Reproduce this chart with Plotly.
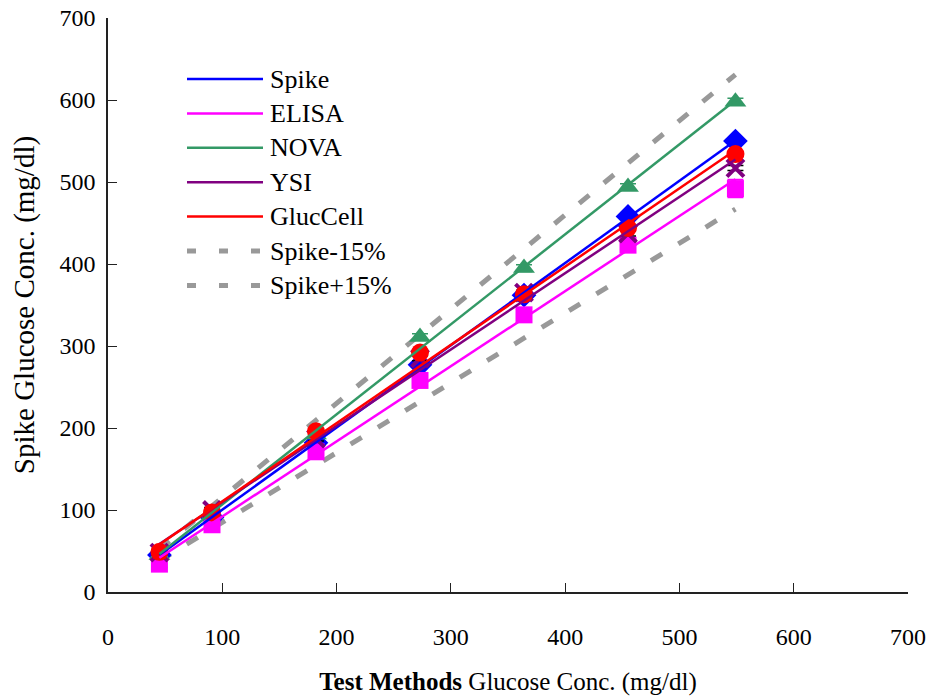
import numpy as np
import plotly.graph_objects as go

# ---- data ----
test_x = [45, 91, 182, 273, 364, 455, 549]
spike = [45, 91, 182, 277, 362, 458, 550]
elisa = [34, 82, 171, 258, 338, 423, 492]
nova = [45, 95, 192, 311, 395, 494, 598]
ysi = [48, 100, 187, 285, 365, 437, 517]
gluccell = [49, 97, 196, 292, 363, 444, 534]
spike_minus15 = [38, 77, 155, 232, 309, 387, 467]
spike_plus15 = [52, 105, 209, 314, 419, 523, 631]

elisa_err = [4, 4, 4, 5, 6, 8, 11]
nova_err = [3, 3, 3, 4, 4, 4, 4]
ysi_err = [3, 3, 3, 3, 3, 3, 3]
gluc_err = [3, 3, 3, 3, 3, 3, 3]

tick_vals = [0, 100, 200, 300, 400, 500, 600, 700]

FONT = "Liberation Serif, Times New Roman, serif"

series = [
    ("Spike", spike, "#0000FF", "diamond", None, None, 19),
    ("ELISA", elisa, "#FF00FF", "square", elisa_err, "#FF00FF", 17),
    ("NOVA", nova, "#339966", "triangle-up", nova_err, "#339966", 19),
    ("YSI", ysi, "#800080", "x-thin", ysi_err, "#000000", 17),
    ("GlucCell", gluccell, "#FF0000", "circle", gluc_err, "#FF0000", 18),
]

fig = go.Figure()

# dashed +/-15% limits
for yv in (spike_minus15, spike_plus15):
    fig.add_trace(go.Scatter(
        x=test_x, y=yv, mode="lines",
        line=dict(color="#999999", width=5, dash="13px,19px"),
        showlegend=False, hoverinfo="skip"))

# markers (data points) with error bars
for name, yv, col, sym, err, ecol, size in series:
    mk = dict(symbol=sym, size=size, color=col)
    if sym == "x-thin":
        mk = dict(symbol=sym, size=size, color=col, line=dict(color=col, width=4))
    tr = dict(x=test_x, y=yv, mode="markers", marker=mk, showlegend=False, name=name)
    if err is not None:
        tr["error_y"] = dict(type="data", array=err, visible=True,
                             color=ecol, thickness=1.5, width=8)
    fig.add_trace(go.Scatter(**tr))

# linear trendlines
xs = np.array(test_x, dtype=float)
for name, yv, col, sym, err, ecol, size in series:
    k, b = np.polyfit(xs, np.array(yv, dtype=float), 1)
    xl = np.array([xs.min(), xs.max()])
    fig.add_trace(go.Scatter(
        x=xl, y=k * xl + b, mode="lines",
        line=dict(color=col, width=2.5),
        showlegend=False, hoverinfo="skip"))

plot_top, plot_h, plot_l, plot_w = 18, 574, 108, 800

# manual legend
legend_items = [
    ("Spike", "#0000FF", "solid", 2.5),
    ("ELISA", "#FF00FF", "solid", 2.5),
    ("NOVA", "#339966", "solid", 2.5),
    ("YSI", "#800080", "solid", 2.5),
    ("GlucCell", "#FF0000", "solid", 2.5),
    ("Spike-15%", "#999999", "9px,23px", 5),
    ("Spike+15%", "#999999", "9px,23px", 5),
]
shapes = []
annotations = []
for i, (lab, col, dash, w) in enumerate(legend_items):
    ypx = 79 + i * 34.4
    yp = (plot_top + plot_h - ypx) / plot_h
    shapes.append(dict(type="line", xref="paper", yref="paper",
                       x0=(187 - plot_l) / plot_w, x1=(263 - plot_l) / plot_w,
                       y0=yp, y1=yp, line=dict(color=col, width=w, dash=dash)))
    annotations.append(dict(xref="paper", yref="paper",
                            x=(268 - plot_l) / plot_w, y=yp, text=lab,
                            showarrow=False, xanchor="left", yanchor="middle",
                            font=dict(family=FONT, size=26, color="black")))

fig.update_layout(
    width=930, height=696,
    margin=dict(l=plot_l, r=930 - (plot_l + plot_w),
                t=plot_top, b=696 - (plot_top + plot_h)),
    paper_bgcolor="white", plot_bgcolor="white",
    font=dict(family=FONT, size=24, color="black"),
    shapes=shapes, annotations=annotations,
    showlegend=False,
)
fig.update_xaxes(
    range=[0, 700], tickvals=tick_vals, showgrid=False, zeroline=False,
    showline=True, linecolor="#222222", linewidth=1.5,
    ticks="inside", ticklen=9, tickcolor="#222222", tickwidth=1.2,
    ticklabelstandoff=22, automargin=False,
    tickfont=dict(family=FONT, size=24),
    title=dict(text="<b>Test Methods</b> Glucose Conc. (mg/dl)",
               font=dict(family=FONT, size=25), standoff=24),
)
fig.update_yaxes(
    range=[0, 700], tickvals=tick_vals, showgrid=False, zeroline=False,
    showline=True, linecolor="#222222", linewidth=1.5,
    ticks="inside", ticklen=9, tickcolor="#222222", tickwidth=1.2,
    ticklabelstandoff=6, automargin=False,
    tickfont=dict(family=FONT, size=24),
    title=dict(text="Spike Glucose Conc. (mg/dl)",
               font=dict(family=FONT, size=29), standoff=16),
)

fig.write_html("out.html", config={"displayModeBar": False},
               post_script="document.body.style.margin='0px';document.body.style.overflow='hidden';")
